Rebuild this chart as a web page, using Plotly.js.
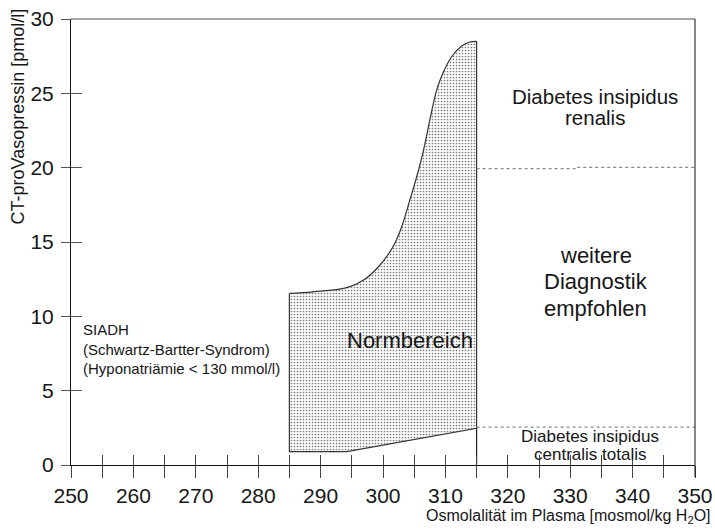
<!DOCTYPE html>
<html>
<head>
<meta charset="utf-8">
<script src="https://cdn.plot.ly/plotly-3.0.1.min.js"></script>
<style>html,body{margin:0;padding:0;background:#fff;}#chart{width:715px;height:530px;}</style>
</head>
<body>
<div id="chart"></div>
<script>
// Normbereich: upper boundary (osmolality -> CT-proVasopressin)
const upperX = [285, 288.8, 294.2, 297.1, 299.2, 300.9, 302.0, 303.0, 304.3, 305.4, 306.5, 307.5, 308.6, 309.7, 311.0, 312.6, 313.9, 315];
const upperY = [11.55, 11.65, 11.93, 12.5, 13.3, 14.2, 15.0, 16.03, 17.82, 19.39, 21.18, 23.2, 25.22, 26.45, 27.46, 28.18, 28.45, 28.5];
// Normbereich: lower boundary and edges (right top -> right bottom -> left bottom -> left top)
const edgeX = [315, 315, 294.2, 285, 285];
const edgeY = [28.5, 2.47, 0.9, 0.9, 11.55];
// vertical separator below the region
const sepX = [315, 315];
const sepY = [2.47, 0];
// dotted dividing lines
const renalisX = [315, 331, 331, 350];
const renalisY = [19.93, 19.93, 20.02, 20.02];
const centralisX = [315, 350];
const centralisY = [2.55, 2.55];
// ticks
const xTickLabels = [250, 260, 270, 280, 290, 300, 310, 320, 330, 340, 350];
const xTicksAll = [250,255,260,265,270,275,280,285,290,295,300,305,310,315,320,325,330,335,340,345,350];
const yTicks = [0, 5, 10, 15, 20, 25, 30];

const fillX = upperX.concat(edgeX);
const fillY = upperY.concat(edgeY);

const FONT = 'Liberation Sans, Arial, sans-serif';
const TXT = '#161616';

const traces = [
  {x: fillX, y: fillY, mode: 'lines', fill: 'toself', fillcolor: 'white',
   fillpattern: {shape: '.', fgcolor: '#7a7a7a', bgcolor: '#fff', size: 3, solidity: 0.25},
   line: {width: 0, color: 'rgba(0,0,0,0)'}, hoverinfo: 'skip', showlegend: false},
  {x: upperX, y: upperY, mode: 'lines', line: {color: '#333', width: 1.2, shape: 'spline', smoothing: 1},
   hoverinfo: 'skip', showlegend: false},
  {x: edgeX, y: edgeY, mode: 'lines', line: {color: '#333', width: 1.2}, hoverinfo: 'skip', showlegend: false},
  {x: sepX, y: sepY, mode: 'lines', line: {color: '#222', width: 1.2}, hoverinfo: 'skip', showlegend: false},
  {x: renalisX, y: renalisY, xaxis: 'x2', yaxis: 'y2', mode: 'lines', line: {color: '#8a8a8a', width: 1.3, dash: 'dot'}, hoverinfo: 'skip', showlegend: false},
  {x: centralisX, y: centralisY, xaxis: 'x2', yaxis: 'y2', mode: 'lines', line: {color: '#8a8a8a', width: 1.3, dash: 'dot'}, hoverinfo: 'skip', showlegend: false}
];

function lab(text, x, y, size, extra) {
  return Object.assign({text: text, x: x, y: y, xref: 'x', yref: 'y', showarrow: false,
    font: {size: size, color: TXT, family: FONT}}, extra || {});
}

const layout = {
  width: 715, height: 530,
  margin: {l: 71, r: 20, t: 19, b: 65},
  paper_bgcolor: '#fff', plot_bgcolor: '#fff',
  showlegend: false,
  font: {family: FONT, color: TXT},
  xaxis: {range: [250, 350], showgrid: false, zeroline: false, showline: true, linecolor: '#111', linewidth: 1,
    tickmode: 'array', tickvals: xTickLabels, ticks: 'outside', ticklen: 12, tickcolor: '#444', tickwidth: 1,
    minor: {tickmode: 'array', tickvals: xTicksAll, ticks: 'outside', ticklen: 12, tickcolor: '#444', tickwidth: 1},
    tickfont: {size: 21, color: TXT, family: FONT}, fixedrange: true},
  yaxis: {range: [0, 30], showgrid: false, zeroline: false, showline: true, linecolor: '#111', linewidth: 1,
    tickmode: 'array', tickvals: yTicks, ticks: 'outside', ticklen: 9, tickcolor: '#555', tickwidth: 1,
    ticklabelstandoff: 3,
    tickfont: {size: 21, color: TXT, family: FONT}, fixedrange: true},
  xaxis2: {range: [250, 350], overlaying: 'x', anchor: 'y2', showgrid: false, zeroline: false, showline: false,
    tickmode: 'array', tickvals: xTicksAll, ticks: 'inside', ticklen: 10, tickcolor: '#444', tickwidth: 1, showticklabels: false},
  yaxis2: {range: [0, 30], overlaying: 'y', anchor: 'x2', showgrid: false, zeroline: false, showline: false,
    tickmode: 'array', tickvals: yTicks, ticks: 'inside', ticklen: 11, tickcolor: '#555', tickwidth: 1, showticklabels: false},
  shapes: [
    {type: 'line', xref: 'paper', yref: 'paper', x0: 0, x1: 1, y0: 1, y1: 1, line: {color: '#888', width: 1.5}},
    {type: 'line', xref: 'paper', yref: 'paper', x0: 1, x1: 1, y0: -0.027, y1: 1, line: {color: '#111', width: 1}}
  ],
  annotations: [
    lab('Diabetes insipidus', 333.9, 24.82, 20.5),
    lab('renalis', 333.9, 23.40, 20.5),
    lab('weitere', 334.1, 14.09, 22),
    lab('Diagnostik', 334.1, 12.35, 22),
    lab('empfohlen', 334.1, 10.53, 22),
    lab('Normbereich', 304.4, 8.38, 22),
    lab('SIADH<br>(Schwartz-Bartter-Syndrom)<br>(Hyponatriämie < 130 mmol/l)', 251.6, 7.8, 15,
        {xanchor: 'left', align: 'left'}),
    lab('Diabetes insipidus', 333.25, 1.93, 17),
    lab('centralis totalis', 333.25, 0.69, 17),
    {text: 'CT-proVasopressin [pmol/l]', textangle: -90, xref: 'paper', yref: 'paper', x: -0.085, y: 1.028,
     xanchor: 'center', yanchor: 'top', showarrow: false, font: {size: 18, color: TXT, family: FONT}},
    {text: 'Osmolalität im Plasma [mosmol/kg H<sub>2</sub>O]', xref: 'paper', yref: 'paper', x: 1.029, y: -0.0897,
     xanchor: 'right', yanchor: 'top', showarrow: false, font: {size: 16, color: TXT, family: FONT}}
  ]
};

Plotly.newPlot('chart', traces, layout, {displayModeBar: false, staticPlot: true});
</script>
</body>
</html>
